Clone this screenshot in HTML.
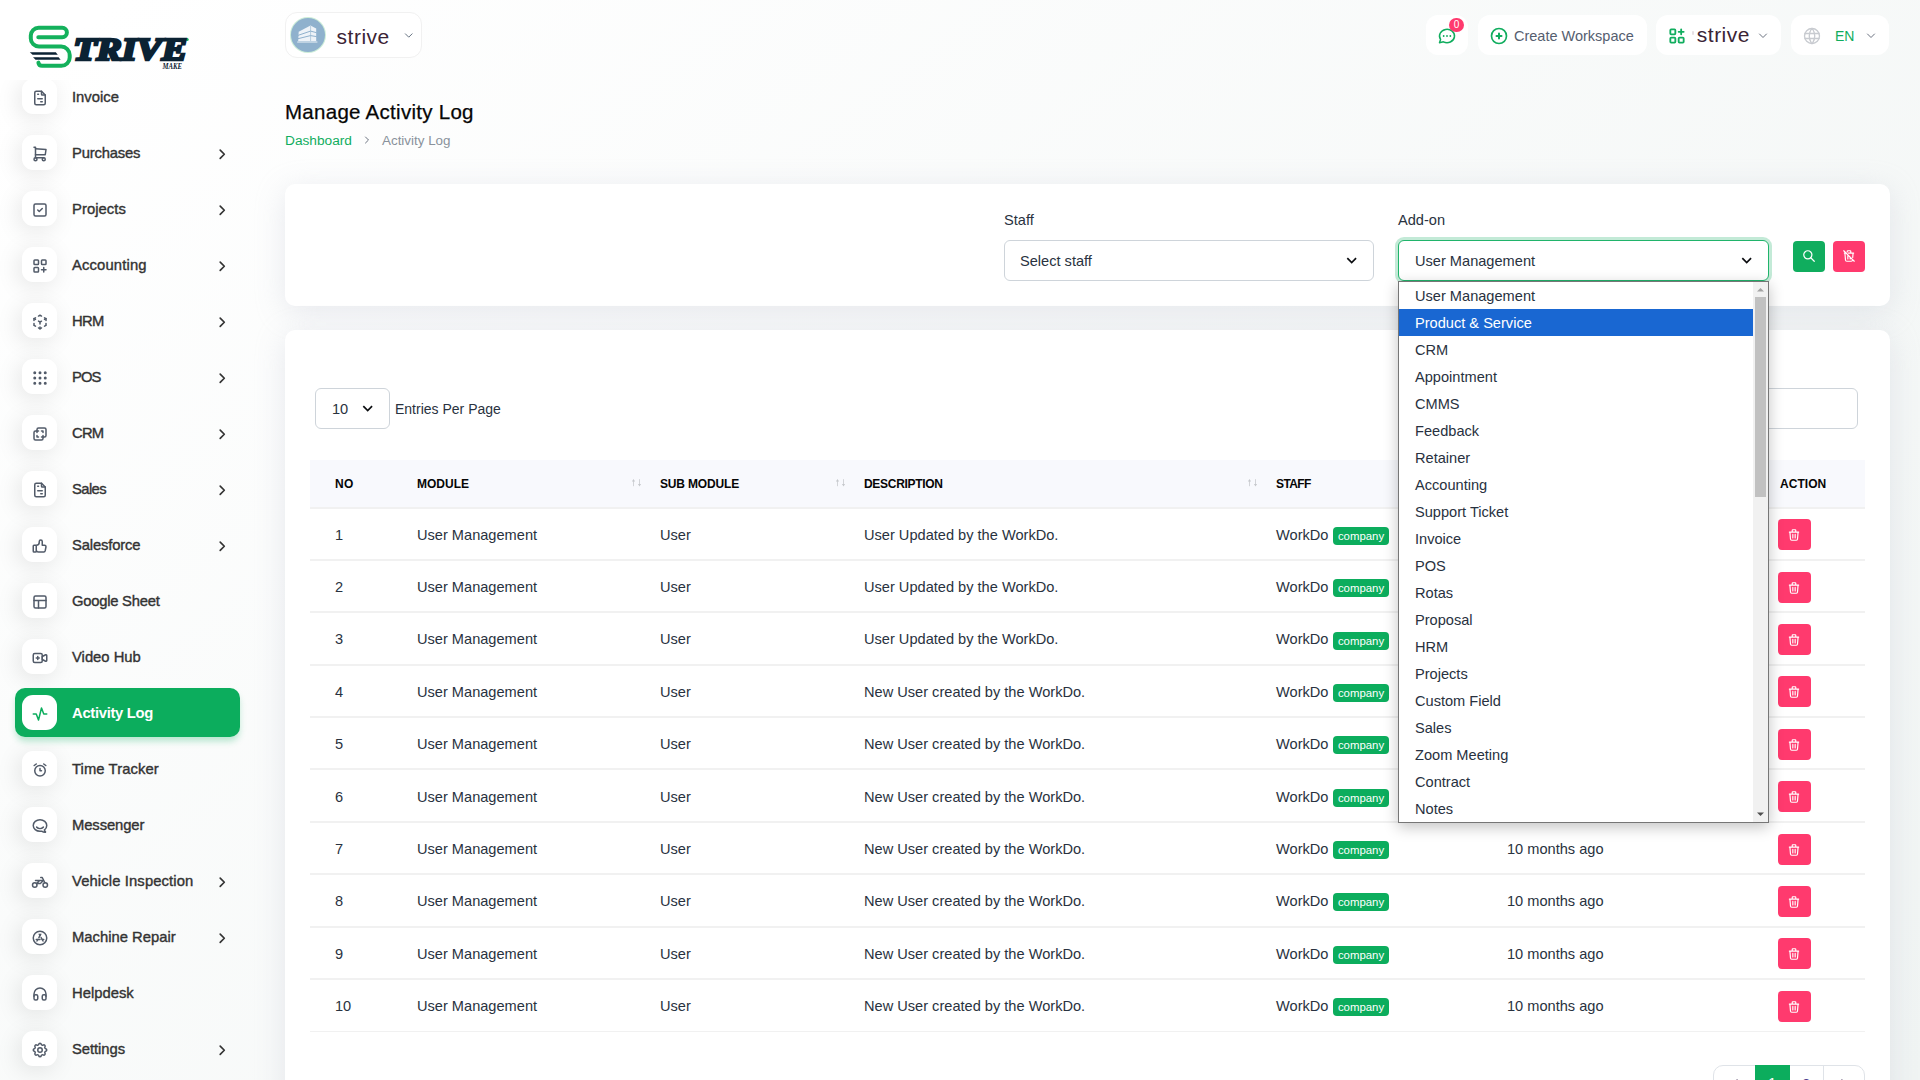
<!DOCTYPE html>
<html lang="en">
<head>
<meta charset="utf-8">
<title>Manage Activity Log</title>
<style>
*{box-sizing:border-box;margin:0;padding:0}
html,body{width:1920px;height:1080px;overflow:hidden}
body{font-family:"Liberation Sans",sans-serif;font-size:15px;color:#293240;position:relative;
background:linear-gradient(141.55deg,rgba(240,244,243,0) 3.46%,#f0f4f3 99.86%),#fff;}
.abs{position:absolute}
.t{position:absolute;white-space:nowrap;line-height:1}
/* sidebar */
.mi{position:absolute;left:15px;width:225px;height:49px}
.mi .ib{position:absolute;left:7px;top:7px;width:35px;height:35px;border-radius:11px;background:#fff;box-shadow:-3px 4px 23px rgba(0,0,0,.1)}
.mi .ib svg{position:absolute;left:8.5px;top:9.9px;width:18px;height:18px;fill:none;stroke:#525b69;stroke-width:2;stroke-linecap:round;stroke-linejoin:round}
.mi .lb{position:absolute;left:57px;top:16px;font-size:14.8px;font-weight:400;color:#333;-webkit-text-stroke:.38px #333;line-height:18px;white-space:nowrap;letter-spacing:.05px}
.mi .ch{position:absolute;left:198.95px;top:17.8px;width:16.5px;height:16.5px;fill:none;stroke:#333;stroke-width:2.4;stroke-linecap:round;stroke-linejoin:round}
.mi.act{background:#0cad5d;border-radius:10px;box-shadow:0 5px 7px -1px rgba(12,175,96,.3)}
.mi.act .lb{color:#fff;font-weight:700;-webkit-text-stroke:0}
.mi.act .ib{box-shadow:none}
.mi.act .ib svg{stroke:#0cad5d}
/* header */
.hb{position:absolute;top:15px;height:40px;background:#fff;border-radius:12px}
.card{position:absolute;background:#fff;border-radius:10px;box-shadow:0 6px 30px rgba(182,186,203,.3)}
.sel{position:absolute;background:#fff;border:1px solid #ced4da;border-radius:6px}
.btn{position:absolute;border-radius:4px}
.btn svg{position:absolute}
/* table */
.th{position:absolute;top:477px;font-size:12px;font-weight:700;color:#060606;line-height:14px;white-space:nowrap}
.row{position:absolute;left:310px;width:1555px;height:52.9px;border-bottom:2px solid #f1f1f1}
.row span{position:absolute;top:18px;line-height:18px;font-size:14.6px;white-space:nowrap;color:#293240}
.row .bd{top:18.5px;left:1023px;width:56px;height:18px;background:#0cad5d;border-radius:4px;color:#fff;font-size:11.4px;line-height:18.5px;text-align:center}
.row .del{position:absolute;left:1468px;top:11px;width:33px;height:31px;background:#ff3a6e;border-radius:4px}
.row .del svg{position:absolute;left:9.2px;top:8.6px;width:14px;height:14px;fill:none;stroke:#fff;stroke-width:2;stroke-linecap:round;stroke-linejoin:round}
.srt{font-size:9px;color:#c3c6cc;letter-spacing:-1px}
/* dropdown */
#dd{position:absolute;left:1398px;top:281px;width:371px;height:542px;background:#fff;border:1px solid #767676;box-shadow:0 4px 14px rgba(0,0,0,.24)}
#dd .o{position:absolute;left:0;width:354px;height:27px;padding-left:16px;font-size:14.6px;line-height:28px;color:#283140;white-space:nowrap}
#dd .o.hl{background:#1967d2;color:#fff}
</style>
</head>
<body>
<!-- SIDEBAR -->
<div id="sidebar">
<svg class="abs" style="left:20px;top:18px" width="180" height="60" viewBox="0 0 180 60">
<path d="M18.3 19.2H42.2A4.7 4.7 0 0 0 42.2 9.8H18.6A7.8 7.8 0 0 0 10.8 17.6V20.4A8.2 8.2 0 0 0 19 28.6H41.2A8.5 8.5 0 0 1 49.7 37.1V39.4A8.4 8.4 0 0 1 41.3 47.8H22.2A3.8 3.8 0 0 1 18.4 44.6" fill="none" stroke="#14b15c" stroke-width="4" stroke-linecap="round" stroke-linejoin="round"/>
<path d="M9.8 34.2H35.8L37.8 36.8H12.6Z" fill="#0b2233"/>
<path d="M13 39.2H38.6L40.6 41.8H15.6Z" fill="#0b2233"/>
<circle cx="167.2" cy="21.6" r="1.5" fill="#14b15c"/>
<text x="53.4" y="41.5" font-family="Liberation Serif" font-weight="700" font-style="italic" font-size="32.5" fill="#0b2233" stroke="#0b2233" stroke-width="2.7" stroke-linejoin="miter" textLength="113.6" lengthAdjust="spacingAndGlyphs">TRIVE</text>
<text x="142.6" y="50.6" font-family="Liberation Serif" font-weight="700" font-style="italic" font-size="8" fill="#0b2233" textLength="19.5" lengthAdjust="spacingAndGlyphs">MAKE</text>
</svg>

<div class="abs" style="left:0;top:80px;width:282px;height:1000px;overflow:hidden">
<div class="mi" style="top:-8px"><div class="ib"><svg viewBox="0 0 24 24" ><path d="M14 3v4a1 1 0 0 0 1 1h4"/><path d="M17 21h-10a2 2 0 0 1 -2 -2v-14a2 2 0 0 1 2 -2h7l5 5v11a2 2 0 0 1 -2 2z"/><path d="M9 7h1M9 13h6M13 17h2"/></svg></div><div class="lb" style="letter-spacing:0px">Invoice</div></div>
<div class="mi" style="top:48px"><div class="ib"><svg viewBox="0 0 24 24" ><circle cx="6" cy="19" r="2"/><circle cx="17" cy="19" r="2"/><path d="M17 17h-11v-14h-2"/><path d="M6 5l14 1l-1 7h-13"/></svg></div><div class="lb" style="letter-spacing:-0.18px">Purchases</div><svg class="ch" viewBox="0 0 24 24"><path d="M9 18l6 -6l-6 -6"/></svg></div>
<div class="mi" style="top:104px"><div class="ib"><svg viewBox="0 0 24 24" ><rect x="4" y="4" width="16" height="16" rx="2"/><path d="M9 12l2 2l4 -4"/></svg></div><div class="lb" style="letter-spacing:0.05px">Projects</div><svg class="ch" viewBox="0 0 24 24"><path d="M9 18l6 -6l-6 -6"/></svg></div>
<div class="mi" style="top:160px"><div class="ib"><svg viewBox="0 0 24 24" ><rect x="4" y="4" width="6" height="6" rx="1"/><rect x="14" y="4" width="6" height="6" rx="1"/><rect x="4" y="14" width="6" height="6" rx="1"/><path d="M14 17h6m-3 -3v6"/></svg></div><div class="lb" style="letter-spacing:0.15px">Accounting</div><svg class="ch" viewBox="0 0 24 24"><path d="M9 18l6 -6l-6 -6"/></svg></div>
<div class="mi" style="top:216px"><div class="ib"><svg viewBox="0 0 24 24" ><path d="M6 17.6l-2 -1.1v-2.5"/><path d="M4 10v-2.5l2 -1.1"/><path d="M10 4.1l2 -1.1l2 1.1"/><path d="M18 6.4l2 1.1v2.5"/><path d="M20 14v2.5l-2 1.12"/><path d="M14 19.9l-2 1.1l-2 -1.1"/><path d="M12 12l2 -1.1M18 8.6l2 -1.1M12 12v2.5M12 18.5v2.5M12 12l-2 -1.12M6 8.6l-2 -1.1"/></svg></div><div class="lb" style="letter-spacing:-0.7px">HRM</div><svg class="ch" viewBox="0 0 24 24"><path d="M9 18l6 -6l-6 -6"/></svg></div>
<div class="mi" style="top:272px"><div class="ib"><svg viewBox="0 0 24 24" ><circle cx="5" cy="5" r="1"/><circle cx="12" cy="5" r="1"/><circle cx="19" cy="5" r="1"/><circle cx="5" cy="12" r="1"/><circle cx="12" cy="12" r="1"/><circle cx="19" cy="12" r="1"/><circle cx="5" cy="19" r="1"/><circle cx="12" cy="19" r="1"/><circle cx="19" cy="19" r="1"/></svg></div><div class="lb" style="letter-spacing:-0.9px">POS</div><svg class="ch" viewBox="0 0 24 24"><path d="M9 18l6 -6l-6 -6"/></svg></div>
<div class="mi" style="top:328px"><div class="ib"><svg viewBox="0 0 24 24" ><path d="M16 16v2a2 2 0 0 1 -2 2h-8a2 2 0 0 1 -2 -2v-8a2 2 0 0 1 2 -2h2v-2a2 2 0 0 1 2 -2h8a2 2 0 0 1 2 2v8a2 2 0 0 1 -2 2h-2"/><path d="M10 8h-2v2M8 14v2h2M14 8h2v2M16 14v2h-2"/></svg></div><div class="lb" style="letter-spacing:-0.8px">CRM</div><svg class="ch" viewBox="0 0 24 24"><path d="M9 18l6 -6l-6 -6"/></svg></div>
<div class="mi" style="top:384px"><div class="ib"><svg viewBox="0 0 24 24" ><path d="M14 3v4a1 1 0 0 0 1 1h4"/><path d="M17 21h-10a2 2 0 0 1 -2 -2v-14a2 2 0 0 1 2 -2h7l5 5v11a2 2 0 0 1 -2 2z"/><path d="M9 7h1M9 13h6M13 17h2"/></svg></div><div class="lb" style="letter-spacing:-0.6px">Sales</div><svg class="ch" viewBox="0 0 24 24"><path d="M9 18l6 -6l-6 -6"/></svg></div>
<div class="mi" style="top:440px"><div class="ib"><svg viewBox="0 0 24 24" ><path d="M7 11v8a1 1 0 0 1 -1 1h-2a1 1 0 0 1 -1 -1v-7a1 1 0 0 1 1 -1h3a4 4 0 0 0 4 -4v-1a2 2 0 0 1 4 0v5h3a2 2 0 0 1 2 2l-1 5a2 3 0 0 1 -2 2h-7a3 3 0 0 1 -3 -3"/></svg></div><div class="lb" style="letter-spacing:-0.15px">Salesforce</div><svg class="ch" viewBox="0 0 24 24"><path d="M9 18l6 -6l-6 -6"/></svg></div>
<div class="mi" style="top:496px"><div class="ib"><svg viewBox="0 0 24 24" ><rect x="4" y="4" width="16" height="16" rx="2"/><path d="M4 10h16M10 10v10"/></svg></div><div class="lb" style="letter-spacing:-0.25px">Google Sheet</div></div>
<div class="mi" style="top:552px"><div class="ib"><svg viewBox="0 0 24 24" ><path d="M15 10l4.553 -2.276a1 1 0 0 1 1.447 .894v6.764a1 1 0 0 1 -1.447 .894l-4.553 -2.276v-4z"/><rect x="3" y="6" width="12" height="12" rx="2"/><path d="M7 12h4M9 10v4"/></svg></div><div class="lb" style="letter-spacing:0px">Video Hub</div></div>
<div class="mi act" style="top:608px"><div class="ib"><svg viewBox="0 0 24 24" ><path d="M3 12h4l3 8l4 -16l3 8h4"/></svg></div><div class="lb" style="letter-spacing:-0.3px">Activity Log</div></div>
<div class="mi" style="top:664px"><div class="ib"><svg viewBox="0 0 24 24" ><circle cx="12" cy="13" r="7"/><path d="M12 10v3h2M7 4l-2.75 2M17 4l2.75 2"/></svg></div><div class="lb" style="letter-spacing:0.08px">Time Tracker</div></div>
<div class="mi" style="top:720px"><div class="ib"><svg viewBox="0 0 24 24" ><path d="M17.802 17.292s.077 -.055 .2 -.149c1.843 -1.425 3 -3.49 3 -5.789c0 -4.286 -4.03 -7.764 -9 -7.764c-4.97 0 -9 3.478 -9 7.764c0 4.288 4.03 7.646 9 7.646c.424 0 1.12 -.028 2.088 -.084c1.262 .82 3.104 1.493 4.716 1.493c.499 0 .734 -.41 .414 -.828c-.486 -.596 -1.156 -1.551 -1.416 -2.29z"/><path d="M7.5 13.5c2.5 2.5 6.5 2.5 9 0"/></svg></div><div class="lb" style="letter-spacing:-0.1px">Messenger</div></div>
<div class="mi" style="top:776px"><div class="ib"><svg viewBox="0 0 24 24" ><circle cx="5" cy="16" r="3"/><circle cx="19" cy="16" r="3"/><path d="M7.5 14h5l4 -4h-10.5m1.5 4l4 -4"/><path d="M13 6h2l1.5 3l2 4"/></svg></div><div class="lb" style="letter-spacing:0.12px">Vehicle Inspection</div><svg class="ch" viewBox="0 0 24 24"><path d="M9 18l6 -6l-6 -6"/></svg></div>
<div class="mi" style="top:832px"><div class="ib"><svg viewBox="0 0 24 24" ><circle cx="12" cy="12" r="9"/><path d="M8 16l1.106 -1.99m1.4 -2.522l2.494 -4.488"/><path d="M7 14h5m2.9 0h2.1"/><path d="M16 16l-2.51 -4.518m-1.487 -2.677l-1 -1.805"/></svg></div><div class="lb" style="letter-spacing:0px">Machine Repair</div><svg class="ch" viewBox="0 0 24 24"><path d="M9 18l6 -6l-6 -6"/></svg></div>
<div class="mi" style="top:888px"><div class="ib"><svg viewBox="0 0 24 24" ><rect x="4" y="13" rx="2" width="5" height="7"/><rect x="15" y="13" rx="2" width="5" height="7"/><path d="M4 15v-3a8 8 0 0 1 16 0v3"/></svg></div><div class="lb" style="letter-spacing:0px">Helpdesk</div></div>
<div class="mi" style="top:944px"><div class="ib"><svg viewBox="0 0 24 24" ><path d="M10.325 4.317c.426 -1.756 2.924 -1.756 3.35 0a1.724 1.724 0 0 0 2.573 1.066c1.543 -.94 3.31 .826 2.37 2.37a1.724 1.724 0 0 0 1.065 2.572c1.756 .426 1.756 2.924 0 3.35a1.724 1.724 0 0 0 -1.066 2.573c.94 1.543 -.826 3.31 -2.37 2.37a1.724 1.724 0 0 0 -2.572 1.065c-.426 1.756 -2.924 1.756 -3.35 0a1.724 1.724 0 0 0 -2.573 -1.066c-1.543 .94 -3.31 -.826 -2.37 -2.37a1.724 1.724 0 0 0 -1.065 -2.572c-1.756 -.426 -1.756 -2.924 0 -3.35a1.724 1.724 0 0 0 1.066 -2.573c-.94 -1.543 .826 -3.31 2.37 -2.37c1 .608 2.296 .07 2.572 -1.065z"/><circle cx="12" cy="12" r="3"/></svg></div><div class="lb" style="letter-spacing:-0.05px">Settings</div><svg class="ch" viewBox="0 0 24 24"><path d="M9 18l6 -6l-6 -6"/></svg></div>
</div>
</div>
<!-- HEADER -->
<div id="header">
<!-- workspace button left -->
<div class="abs" style="left:285px;top:12px;width:137px;height:46px;background:#fff;border:1px solid #f1f1f1;border-radius:12px"></div>
<div class="abs" style="left:291px;top:18px;width:34px;height:34px;border-radius:50%;background:#8fb1cd;box-shadow:0 0 0 1px rgba(170,225,190,.6)">
<svg class="abs" style="left:0;top:0" width="34" height="34" viewBox="0 0 34 34"><path d="M7.7 13.7L19.5 7.5L25.2 10.5V23.3H7.2Z" fill="#eef3f8"/><g stroke="#8fb1cd" stroke-width="1" fill="none"><path d="M7 17.4L19.5 13.1L25.6 14.7M7 20.7L19.5 17.6L25.6 18.6"/><path d="M19.6 8V23.3" stroke-width=".6"/></g><path d="M6.2 23.3H26.4V24.8H6.2Z" fill="#cbdbe8"/></svg>
</div>
<div class="t" style="left:336.6px;top:26.2px;font-size:21px;color:#3b2435;letter-spacing:.5px">strive</div>
<svg class="abs" style="left:402.8px;top:30.4px;fill:none;stroke:#5f6d7c;stroke-width:2;stroke-linecap:round;stroke-linejoin:round" width="11.5" height="11.5" viewBox="0 0 24 24"><path d="M5 8l7 7l7 -7"/></svg>

<!-- chat -->
<div class="hb" style="left:1426px;width:42px"></div>
<svg class="abs" style="left:1437px;top:26px;fill:none;stroke:#10ad5e;stroke-width:1.8;stroke-linecap:round;stroke-linejoin:round" width="20" height="20" viewBox="0 0 24 24"><path d="M3 20l1.3 -3.9a9 8 0 1 1 3.4 2.9l-4.7 1"/><path d="M8 12v.01M12 12v.01M16 12v.01" stroke-width="2.2"/></svg>
<div class="abs" style="left:1449.2px;top:18px;width:14.6px;height:14.2px;border-radius:50%;background:#ff3a6e;color:#fff;font-size:10px;line-height:14.2px;text-align:center">0</div>

<!-- create workspace -->
<div class="hb" style="left:1478px;width:169px"></div>
<svg class="abs" style="left:1489px;top:26px;fill:none;stroke:#10ad5e;stroke-width:2;stroke-linecap:round;stroke-linejoin:round" width="20" height="20" viewBox="0 0 24 24"><circle cx="12" cy="12" r="9"/><path d="M9 12h6M12 9v6" stroke-width="2.4"/></svg>
<div class="t" style="left:1514px;top:28.8px;font-size:14.5px;color:#555e6f">Create Workspace</div>

<!-- strive -->
<div class="hb" style="left:1656px;width:125px"></div>
<svg class="abs" style="left:1667px;top:26px;fill:none;stroke:#10ad5e;stroke-width:2.2;stroke-linecap:round;stroke-linejoin:round" width="20" height="20" viewBox="0 0 24 24"><rect x="4" y="4" width="6" height="6" rx="1"/><rect x="4" y="14" width="6" height="6" rx="1"/><rect x="14" y="14" width="6" height="6" rx="1"/><path d="M14 7h6m-3 -3v6"/></svg>
<div class="abs" style="left:1692px;top:31px;width:2px;height:4px;background:#e6e0e4;border-radius:1px"></div>
<div class="t" style="left:1696.8px;top:24.4px;font-size:21px;color:#3b2435;letter-spacing:.5px">strive</div>
<svg class="abs" style="left:1757px;top:30px;fill:none;stroke:#6b7280;stroke-width:2;stroke-linecap:round;stroke-linejoin:round" width="12" height="12" viewBox="0 0 24 24"><path d="M5 8l7 7l7 -7"/></svg>

<!-- EN -->
<div class="hb" style="left:1791px;width:98px"></div>
<svg class="abs" style="left:1802px;top:26px;fill:none;stroke:#c8cbd0;stroke-width:1.6;stroke-linecap:round;stroke-linejoin:round" width="20" height="20" viewBox="0 0 24 24"><circle cx="12" cy="12" r="9"/><path d="M3.6 9h16.8M3.6 15h16.8M11.5 3a17 17 0 0 0 0 18M12.5 3a17 17 0 0 1 0 18"/></svg>
<div class="t" style="left:1835px;top:28.6px;font-size:14px;color:#10ad5e;letter-spacing:0">EN</div>
<svg class="abs" style="left:1865px;top:30px;fill:none;stroke:#6b7280;stroke-width:2;stroke-linecap:round;stroke-linejoin:round" width="12" height="12" viewBox="0 0 24 24"><path d="M5 8l7 7l7 -7"/></svg>

</div>
<!-- CONTENT -->
<div id="content">
<div class="t" style="left:285px;top:101px;font-size:20.5px;color:#060606;-webkit-text-stroke:.25px #060606;line-height:22px;letter-spacing:.28px">Manage Activity Log</div>
<div class="t" style="left:285px;top:133.7px;font-size:13.7px;color:#10ad5e">Dashboard</div>
<svg class="abs" style="left:361px;top:134px;fill:none;stroke:#6b7280;stroke-width:2;stroke-linecap:round;stroke-linejoin:round" width="12" height="12" viewBox="0 0 24 24"><path d="M9 18l6 -6l-6 -6"/></svg>
<div class="t" style="left:382px;top:133.9px;font-size:13.4px;color:#8a929c">Activity Log</div>

<!-- filter card -->
<div class="card" style="left:285px;top:184px;width:1605px;height:122px"></div>
<div class="t" style="left:1004px;top:213px;font-size:14.6px;color:#293240">Staff</div>
<div class="t" style="left:1398px;top:213px;font-size:14.6px;color:#293240">Add-on</div>
<div class="sel" style="left:1004px;top:240px;width:370px;height:41px"></div>
<div class="t" style="left:1020px;top:254px;font-size:14.6px;color:#293240">Select staff</div>
<svg class="abs" style="left:1344px;top:253px;fill:none;stroke:#0b0d10;stroke-width:2.7;stroke-linecap:butt;stroke-linejoin:miter" width="15" height="15" viewBox="0 0 24 24"><path d="M5.3 8.2l7 7l7 -7"/></svg>
<div class="sel" style="left:1398px;top:240px;width:371px;height:41px;border-color:#20b46b;box-shadow:0 0 0 3px rgba(16,173,94,.25)"></div>
<div class="t" style="left:1415px;top:254px;font-size:14.6px;color:#293240">User Management</div>
<svg class="abs" style="left:1739px;top:253px;fill:none;stroke:#0b0d10;stroke-width:2.7;stroke-linecap:butt;stroke-linejoin:miter" width="15" height="15" viewBox="0 0 24 24"><path d="M5.3 8.2l7 7l7 -7"/></svg>
<div class="btn" style="left:1793px;top:241px;width:32px;height:31px;background:#10ad5e"><svg style="left:9px;top:8px;fill:none;stroke:#fff;stroke-width:2.1;stroke-linecap:round;stroke-linejoin:round" width="14" height="14" viewBox="0 0 24 24"><circle cx="10" cy="10" r="7"/><path d="M21 21l-6 -6"/></svg></div>
<div class="btn" style="left:1833px;top:241px;width:32px;height:31px;background:#ff3a6e"><svg style="left:9px;top:8px;fill:none;stroke:#fff;stroke-width:2;stroke-linecap:round;stroke-linejoin:round" width="14" height="14" viewBox="0 0 24 24"><path d="M3 3l18 18M4 7h3m4 0h9M10 11v6M14 14v3M5 7l1 12a2 2 0 0 0 2 2h8a2 2 0 0 0 2 -2l.077 -.923M18.384 14.373l.616 -7.373M9 5v-1a1 1 0 0 1 1 -1h4a1 1 0 0 1 1 1v3"/></svg></div>

<!-- table card -->
<div class="card" style="left:285px;top:330px;width:1605px;height:800px"></div>
<div class="sel" style="left:315px;top:388px;width:75px;height:41px"></div>
<div class="t" style="left:332px;top:402px;font-size:14.6px;color:#293240">10</div>
<svg class="abs" style="left:360px;top:401px;fill:none;stroke:#0b0d10;stroke-width:2.7;stroke-linecap:butt;stroke-linejoin:miter" width="15" height="15" viewBox="0 0 24 24"><path d="M5.3 8.2l7 7l7 -7"/></svg>
<div class="t" style="left:395px;top:402.3px;font-size:14px;color:#293240">Entries Per Page</div>
<div class="sel" style="left:1640px;top:388px;width:218px;height:41px"></div>

<div class="abs" style="left:310px;top:460px;width:1555px;height:49px;background:#f8f9fd;border-bottom:2px solid #f1f1f1"></div>
<div class="th" style="left:335px;letter-spacing:0.35px">NO</div>
<div class="th" style="left:417px;letter-spacing:0px">MODULE</div>
<div class="th" style="left:660px;letter-spacing:-0.17px">SUB MODULE</div>
<div class="th" style="left:864px;letter-spacing:-0.3px">DESCRIPTION</div>
<div class="th" style="left:1276px;letter-spacing:-0.62px">STAFF</div>
<div class="th" style="left:1507px;letter-spacing:-0.2px">CREATED AT</div>
<div class="th" style="left:1780px;letter-spacing:0.05px">ACTION</div>
<svg class="abs" style="left:630px;top:478px" width="12" height="10" viewBox="0 0 12 10"><path d="M3.5 2V8.2M9.5 1.2V7.4" fill="none" stroke="#d2d4d8" stroke-width="1"/><path d="M1.9 3.4L3.5 1L5.1 3.4ZM7.9 6L9.5 8.4L11.1 6Z" fill="#c6c8cc"/></svg>
<svg class="abs" style="left:834px;top:478px" width="12" height="10" viewBox="0 0 12 10"><path d="M3.5 2V8.2M9.5 1.2V7.4" fill="none" stroke="#d2d4d8" stroke-width="1"/><path d="M1.9 3.4L3.5 1L5.1 3.4ZM7.9 6L9.5 8.4L11.1 6Z" fill="#c6c8cc"/></svg>
<svg class="abs" style="left:1246px;top:478px" width="12" height="10" viewBox="0 0 12 10"><path d="M3.5 2V8.2M9.5 1.2V7.4" fill="none" stroke="#d2d4d8" stroke-width="1"/><path d="M1.9 3.4L3.5 1L5.1 3.4ZM7.9 6L9.5 8.4L11.1 6Z" fill="#c6c8cc"/></svg>
<div class="row" style="top:508.00px"><span style="left:25px;top:18.00px">1</span><span style="left:107px;top:18.00px">User Management</span><span style="left:350px;top:18.00px">User</span><span style="left:554px;top:18.00px">User Updated by the WorkDo.</span><span style="left:966px;top:18.00px">WorkDo</span><span class="bd" style="top:19.00px">company</span><span style="left:1197px;top:18.00px">10 months ago</span><div class="del" style="top:11.00px"><svg viewBox="0 0 24 24" ><path d="M4 7h16M10 11v6M14 11v6M5 7l1 12a2 2 0 0 0 2 2h8a2 2 0 0 0 2 -2l1 -12M9 7v-3a1 1 0 0 1 1 -1h4a1 1 0 0 1 1 1v3"/></svg></div></div>
<div class="row" style="top:560.39px"><span style="left:25px;top:17.61px">2</span><span style="left:107px;top:17.61px">User Management</span><span style="left:350px;top:17.61px">User</span><span style="left:554px;top:17.61px">User Updated by the WorkDo.</span><span style="left:966px;top:17.61px">WorkDo</span><span class="bd" style="top:18.61px">company</span><span style="left:1197px;top:17.61px">10 months ago</span><div class="del" style="top:11.61px"><svg viewBox="0 0 24 24" ><path d="M4 7h16M10 11v6M14 11v6M5 7l1 12a2 2 0 0 0 2 2h8a2 2 0 0 0 2 -2l1 -12M9 7v-3a1 1 0 0 1 1 -1h4a1 1 0 0 1 1 1v3"/></svg></div></div>
<div class="row" style="top:612.78px"><span style="left:25px;top:17.22px">3</span><span style="left:107px;top:17.22px">User Management</span><span style="left:350px;top:17.22px">User</span><span style="left:554px;top:17.22px">User Updated by the WorkDo.</span><span style="left:966px;top:17.22px">WorkDo</span><span class="bd" style="top:19.22px">company</span><span style="left:1197px;top:17.22px">10 months ago</span><div class="del" style="top:11.22px"><svg viewBox="0 0 24 24" ><path d="M4 7h16M10 11v6M14 11v6M5 7l1 12a2 2 0 0 0 2 2h8a2 2 0 0 0 2 -2l1 -12M9 7v-3a1 1 0 0 1 1 -1h4a1 1 0 0 1 1 1v3"/></svg></div></div>
<div class="row" style="top:665.17px"><span style="left:25px;top:17.83px">4</span><span style="left:107px;top:17.83px">User Management</span><span style="left:350px;top:17.83px">User</span><span style="left:554px;top:17.83px">New User created by the WorkDo.</span><span style="left:966px;top:17.83px">WorkDo</span><span class="bd" style="top:18.83px">company</span><span style="left:1197px;top:17.83px">10 months ago</span><div class="del" style="top:10.83px"><svg viewBox="0 0 24 24" ><path d="M4 7h16M10 11v6M14 11v6M5 7l1 12a2 2 0 0 0 2 2h8a2 2 0 0 0 2 -2l1 -12M9 7v-3a1 1 0 0 1 1 -1h4a1 1 0 0 1 1 1v3"/></svg></div></div>
<div class="row" style="top:717.56px"><span style="left:25px;top:17.44px">5</span><span style="left:107px;top:17.44px">User Management</span><span style="left:350px;top:17.44px">User</span><span style="left:554px;top:17.44px">New User created by the WorkDo.</span><span style="left:966px;top:17.44px">WorkDo</span><span class="bd" style="top:18.44px">company</span><span style="left:1197px;top:17.44px">10 months ago</span><div class="del" style="top:11.44px"><svg viewBox="0 0 24 24" ><path d="M4 7h16M10 11v6M14 11v6M5 7l1 12a2 2 0 0 0 2 2h8a2 2 0 0 0 2 -2l1 -12M9 7v-3a1 1 0 0 1 1 -1h4a1 1 0 0 1 1 1v3"/></svg></div></div>
<div class="row" style="top:769.95px"><span style="left:25px;top:18.05px">6</span><span style="left:107px;top:18.05px">User Management</span><span style="left:350px;top:18.05px">User</span><span style="left:554px;top:18.05px">New User created by the WorkDo.</span><span style="left:966px;top:18.05px">WorkDo</span><span class="bd" style="top:19.05px">company</span><span style="left:1197px;top:18.05px">10 months ago</span><div class="del" style="top:11.05px"><svg viewBox="0 0 24 24" ><path d="M4 7h16M10 11v6M14 11v6M5 7l1 12a2 2 0 0 0 2 2h8a2 2 0 0 0 2 -2l1 -12M9 7v-3a1 1 0 0 1 1 -1h4a1 1 0 0 1 1 1v3"/></svg></div></div>
<div class="row" style="top:822.34px"><span style="left:25px;top:17.66px">7</span><span style="left:107px;top:17.66px">User Management</span><span style="left:350px;top:17.66px">User</span><span style="left:554px;top:17.66px">New User created by the WorkDo.</span><span style="left:966px;top:17.66px">WorkDo</span><span class="bd" style="top:18.66px">company</span><span style="left:1197px;top:17.66px">10 months ago</span><div class="del" style="top:11.66px"><svg viewBox="0 0 24 24" ><path d="M4 7h16M10 11v6M14 11v6M5 7l1 12a2 2 0 0 0 2 2h8a2 2 0 0 0 2 -2l1 -12M9 7v-3a1 1 0 0 1 1 -1h4a1 1 0 0 1 1 1v3"/></svg></div></div>
<div class="row" style="top:874.73px"><span style="left:25px;top:17.27px">8</span><span style="left:107px;top:17.27px">User Management</span><span style="left:350px;top:17.27px">User</span><span style="left:554px;top:17.27px">New User created by the WorkDo.</span><span style="left:966px;top:17.27px">WorkDo</span><span class="bd" style="top:18.27px">company</span><span style="left:1197px;top:17.27px">10 months ago</span><div class="del" style="top:11.27px"><svg viewBox="0 0 24 24" ><path d="M4 7h16M10 11v6M14 11v6M5 7l1 12a2 2 0 0 0 2 2h8a2 2 0 0 0 2 -2l1 -12M9 7v-3a1 1 0 0 1 1 -1h4a1 1 0 0 1 1 1v3"/></svg></div></div>
<div class="row" style="top:927.12px"><span style="left:25px;top:17.88px">9</span><span style="left:107px;top:17.88px">User Management</span><span style="left:350px;top:17.88px">User</span><span style="left:554px;top:17.88px">New User created by the WorkDo.</span><span style="left:966px;top:17.88px">WorkDo</span><span class="bd" style="top:18.88px">company</span><span style="left:1197px;top:17.88px">10 months ago</span><div class="del" style="top:10.88px"><svg viewBox="0 0 24 24" ><path d="M4 7h16M10 11v6M14 11v6M5 7l1 12a2 2 0 0 0 2 2h8a2 2 0 0 0 2 -2l1 -12M9 7v-3a1 1 0 0 1 1 -1h4a1 1 0 0 1 1 1v3"/></svg></div></div>
<div class="row" style="top:979.51px;border-bottom-width:1px"><span style="left:25px;top:17.49px">10</span><span style="left:107px;top:17.49px">User Management</span><span style="left:350px;top:17.49px">User</span><span style="left:554px;top:17.49px">New User created by the WorkDo.</span><span style="left:966px;top:17.49px">WorkDo</span><span class="bd" style="top:18.49px">company</span><span style="left:1197px;top:17.49px">10 months ago</span><div class="del" style="top:11.49px"><svg viewBox="0 0 24 24" ><path d="M4 7h16M10 11v6M14 11v6M5 7l1 12a2 2 0 0 0 2 2h8a2 2 0 0 0 2 -2l1 -12M9 7v-3a1 1 0 0 1 1 -1h4a1 1 0 0 1 1 1v3"/></svg></div></div>

<!-- pagination -->
<div class="abs" style="left:1713px;top:1065px;width:152px;height:40px;border:1px solid #dfe3e8;border-radius:10px;background:#fff"></div>
<div class="abs" style="left:1755px;top:1065px;width:35px;height:40px;background:#0cad5d"></div>
<div class="abs" style="left:1823px;top:1066px;width:1px;height:40px;background:#dfe3e8"></div>
<div class="t" style="left:1768px;top:1075px;font-size:15px;color:#fff">1</div>
<div class="t" style="left:1802px;top:1075.5px;font-size:15px;color:#4b3f8f">2</div>
<svg class="abs" style="left:1732px;top:1078.5px" width="8" height="8" viewBox="0 0 8 8" fill="none" stroke="#6b5a7a" stroke-width="1.3"><path d="M5.5 .5L2.5 4L5.5 7.5"/></svg>
<svg class="abs" style="left:1839px;top:1078.5px" width="8" height="8" viewBox="0 0 8 8" fill="none" stroke="#6b5a7a" stroke-width="1.3"><path d="M2.5 .5L5.5 4L2.5 7.5"/></svg>

</div>
<!-- DROPDOWN -->
<div id="dd">
<div class="o" style="top:0px">User Management</div>
<div class="o hl" style="top:27px">Product &amp; Service</div>
<div class="o" style="top:54px">CRM</div>
<div class="o" style="top:81px">Appointment</div>
<div class="o" style="top:108px">CMMS</div>
<div class="o" style="top:135px">Feedback</div>
<div class="o" style="top:162px">Retainer</div>
<div class="o" style="top:189px">Accounting</div>
<div class="o" style="top:216px">Support Ticket</div>
<div class="o" style="top:243px">Invoice</div>
<div class="o" style="top:270px">POS</div>
<div class="o" style="top:297px">Rotas</div>
<div class="o" style="top:324px">Proposal</div>
<div class="o" style="top:351px">HRM</div>
<div class="o" style="top:378px">Projects</div>
<div class="o" style="top:405px">Custom Field</div>
<div class="o" style="top:432px">Sales</div>
<div class="o" style="top:459px">Zoom Meeting</div>
<div class="o" style="top:486px">Contract</div>
<div class="o" style="top:513px">Notes</div>
<div class="abs" style="left:354px;top:0;width:15px;height:540px;background:#f1f1f1"></div>
<div class="abs" style="left:356px;top:15px;width:11px;height:200px;background:#c1c1c1"></div>
<svg class="abs" style="left:354px;top:0" width="15" height="15" viewBox="0 0 15 15"><path d="M4 9.5L7.5 6L11 9.5Z" fill="#a3a3a3"/></svg>
<svg class="abs" style="left:354px;top:525px" width="15" height="15" viewBox="0 0 15 15"><path d="M4 5.5L7.5 9L11 5.5Z" fill="#505050"/></svg>

</div>
</body>
</html>
